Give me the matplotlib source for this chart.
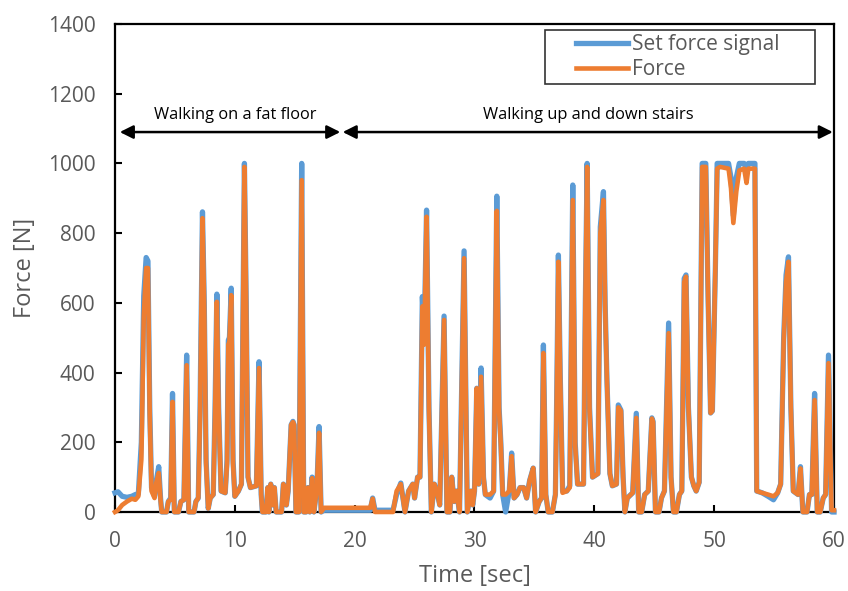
import numpy as np
import matplotlib.pyplot as plt
from matplotlib.legend_handler import HandlerLine2D

# time [s], set force signal [N], measured force [N]
time = [
    0.00, 0.25, 0.60, 1.00, 1.40, 1.70, 1.95, 2.20, 2.40, 2.60, 2.75, 2.90, 3.05, 3.30, 3.45, 3.65, 3.80, 3.90,
    4.30, 4.45, 4.65, 4.80, 4.95, 5.30, 5.50, 5.75, 5.98, 6.15, 6.60, 6.75, 6.95, 7.10, 7.30, 7.45, 7.60, 7.78,
    7.95, 8.20, 8.35, 8.50, 8.65, 8.85, 9.20, 9.35, 9.46, 9.55, 9.70, 9.85, 10.00, 10.30, 10.55, 10.80, 10.95, 11.10,
    11.30, 11.80, 12.02, 12.20, 12.30, 12.60, 12.75, 12.85, 13.00, 13.15, 13.30, 13.45, 13.90, 14.05, 14.20, 14.30,
    14.45, 14.70, 14.85, 14.95, 15.10, 15.35, 15.58, 15.75, 15.95, 16.10, 16.25, 16.45, 16.60, 16.85, 17.03, 17.20,
    17.45, 21.30, 21.50, 21.70, 23.20, 23.50, 23.85, 24.20, 24.50, 24.85, 25.00, 25.25, 25.45, 25.65, 25.80, 26.00,
    26.20, 26.40, 26.65, 26.85, 27.10, 27.46, 27.70, 27.95, 28.10, 28.30, 28.50, 28.75, 29.13, 29.40, 29.70, 29.85,
    30.00, 30.19, 30.35, 30.55, 30.75, 30.90, 31.30, 31.60, 31.86, 32.05, 32.20, 32.35, 32.60, 32.90, 33.10, 33.30,
    33.55, 33.80, 34.10, 34.35, 34.60, 34.90, 35.10, 35.40, 35.60, 35.75, 35.95, 36.15, 36.50, 36.75, 36.85, 37.00,
    37.15, 37.35, 37.70, 37.95, 38.20, 38.40, 38.60, 39.10, 39.25, 39.40, 39.60, 39.85, 40.30, 40.50, 40.76, 40.90,
    41.05, 41.30, 41.50, 41.85, 42.00, 42.22, 42.40, 42.55, 42.75, 43.20, 43.50, 43.70, 43.95, 44.20, 44.50, 44.80,
    44.90, 45.10, 45.40, 45.60, 45.85, 46.20, 46.40, 46.60, 46.85, 47.10, 47.30, 47.50, 47.65, 47.85, 48.10, 48.30,
    48.50, 48.75, 49.00, 49.30, 49.50, 49.70, 49.85, 50.10, 50.25, 50.50, 51.20, 51.40, 51.60, 51.85, 52.10, 52.50,
    52.70, 52.85, 53.40, 53.55, 54.00, 54.50, 54.95, 55.30, 55.55, 55.80, 56.00, 56.20, 56.40, 56.60, 57.00, 57.20,
    57.40, 57.75, 57.95, 58.15, 58.38, 58.60, 58.85, 59.10, 59.30, 59.54, 59.80, 60.00,
]
set_force = [
    55, 58, 45, 42, 45, 50, 52, 200, 620, 730, 720, 300, 70, 45, 90, 130, 40, 0,
    0, 30, 40, 340, 0, 0, 30, 35, 450, 0, 0, 30, 40, 300, 861, 600, 150, 10,
    40, 50, 300, 625, 300, 60, 55, 150, 493, 500, 642, 150, 45, 60, 80, 1000, 600, 100,
    70, 75, 431, 50, 0, 0, 70, 0, 80, 20, 70, 0, 0, 80, 60, 20,
    60, 250, 260, 250, 0, 0, 1000, 0, 0, 70, 0, 100, 0, 70, 245, 0,
    5, 5, 40, 5, 5, 50, 83, 0, 60, 80, 40, 100, 100, 618, 500, 866,
    300, 0, 80, 60, 20, 562, 0, 0, 100, 30, 60, 0, 749, 0, 60, 20,
    60, 355, 80, 413, 100, 50, 40, 60, 906, 300, 197, 50, 0, 60, 169, 40,
    50, 70, 70, 40, 90, 126, 0, 30, 40, 479, 50, 0, 0, 50, 300, 737,
    400, 60, 60, 75, 938, 200, 80, 80, 600, 1000, 300, 100, 110, 818, 919, 600,
    380, 110, 75, 80, 307, 292, 100, 0, 40, 55, 283, 0, 0, 50, 60, 270,
    260, 0, 0, 40, 60, 542, 100, 0, 0, 50, 60, 670, 680, 300, 100, 75,
    60, 85, 1000, 1000, 600, 284, 290, 700, 1000, 1000, 1000, 960, 850, 960, 1000, 1000,
    980, 1000, 1000, 60, 55, 45, 35, 55, 80, 500, 680, 732, 300, 60, 50, 130,
    0, 0, 50, 50, 340, 0, 0, 40, 50, 450, 0, 0,
]
force = [
    0, 5, 20, 30, 38, 35, 45, 150, 560, 700, 700, 280, 60, 40, 85, 112, 35, 0,
    0, 30, 35, 316, 0, 0, 30, 35, 421, 0, 0, 30, 40, 280, 843, 580, 140, 10,
    40, 50, 280, 603, 290, 60, 55, 140, 480, 490, 622, 140, 45, 60, 80, 990, 590, 100,
    70, 75, 413, 50, 0, 0, 70, 0, 80, 20, 70, 0, 0, 80, 60, 20,
    60, 250, 258, 250, 0, 0, 952, 0, 0, 70, 0, 97, 0, 70, 227, 0,
    12, 12, 38, 0, 0, 60, 80, 0, 60, 80, 40, 100, 100, 590, 480, 847,
    290, 0, 80, 60, 20, 551, 0, 0, 100, 30, 60, 0, 728, 0, 60, 20,
    60, 355, 80, 388, 100, 50, 50, 60, 864, 290, 190, 50, 50, 60, 160, 40,
    50, 70, 70, 40, 90, 126, 0, 30, 40, 456, 50, 0, 0, 50, 290, 718,
    390, 55, 60, 70, 895, 190, 80, 80, 590, 990, 290, 100, 110, 800, 895, 590,
    380, 110, 75, 80, 300, 290, 100, 0, 40, 55, 270, 0, 0, 50, 60, 268,
    258, 0, 0, 40, 60, 513, 100, 0, 0, 50, 60, 660, 675, 300, 100, 75,
    60, 85, 990, 990, 600, 284, 290, 700, 985, 990, 985, 930, 829, 920, 980, 985,
    944, 985, 985, 60, 55, 50, 45, 55, 80, 490, 660, 718, 300, 60, 50, 125,
    0, 0, 50, 50, 321, 0, 0, 40, 50, 427, 5, 5,
]

phase_labels = ["Walking on a fat floor", "Walking up and down stairs"]
phase_ranges = [(0.4, 18.8), (19.0, 59.9)]
phase_text_x = [10.0, 39.5]

gray = '#595959'
plt.rcParams['font.family'] = ['Open Sans', 'DejaVu Sans']


class ShortLine(HandlerLine2D):
    # legend line drawn only on the right part of the handle box (Excel look)
    def get_xdata(self, legend, xdescent, ydescent, width, height, fontsize):
        xd = np.array([-xdescent + 0.34 * width, -xdescent + width])
        return xd, xd


fig = plt.figure(figsize=(8.48, 5.91), dpi=100)
ax = fig.add_axes([0.1356, 0.1337, 0.8479, 0.8257])

ax.plot(time, set_force, color='#5B9BD5', lw=3.8, label='Set force signal',
        clip_on=False, zorder=3, solid_joinstyle='round')
ax.plot(time, force, color='#ED7D31', lw=3.3, label='Force',
        clip_on=False, zorder=4, solid_joinstyle='round')

for (x0, x1) in phase_ranges:
    ax.annotate('', xy=(x1, 1090), xytext=(x0, 1090),
                arrowprops=dict(arrowstyle='<|-|>', color='black', lw=1.8,
                                mutation_scale=20, shrinkA=0, shrinkB=0))
for lbl, x in zip(phase_labels, phase_text_x):
    ax.text(x, 1140, lbl, ha='center', va='center', fontsize=11.8, color='black')

ax.set_xlim(0, 60)
ax.set_ylim(0, 1400)
ax.set_xticks(np.arange(0, 61, 10))
ax.set_yticks(np.arange(0, 1401, 200))
ax.tick_params(direction='in', length=5, width=1.5, labelsize=15,
               labelcolor=gray, pad=14, top=False, right=False)
for sp in ax.spines.values():
    sp.set_linewidth(1.6)
    sp.set_color('black')

ax.set_xlabel('Time [sec]', fontsize=17, color=gray)
ax.xaxis.set_label_coords(0.5, -0.106)
ax.set_ylabel('Force [N]', fontsize=17, color=gray, labelpad=8)

leg = ax.legend(loc='upper right', bbox_to_anchor=(0.598, 0.80, 0.3755, 0.1877),
                mode='expand', borderaxespad=0, fontsize=15, frameon=True,
                fancybox=False, handlelength=3.8, handletextpad=0.2,
                labelspacing=0.2, borderpad=0.2,
                handler_map={plt.Line2D: ShortLine()})
leg.get_frame().set_edgecolor('black')
leg.get_frame().set_linewidth(1.2)
for txt in leg.get_texts():
    txt.set_color(gray)

plt.savefig('out.png', dpi=100)
